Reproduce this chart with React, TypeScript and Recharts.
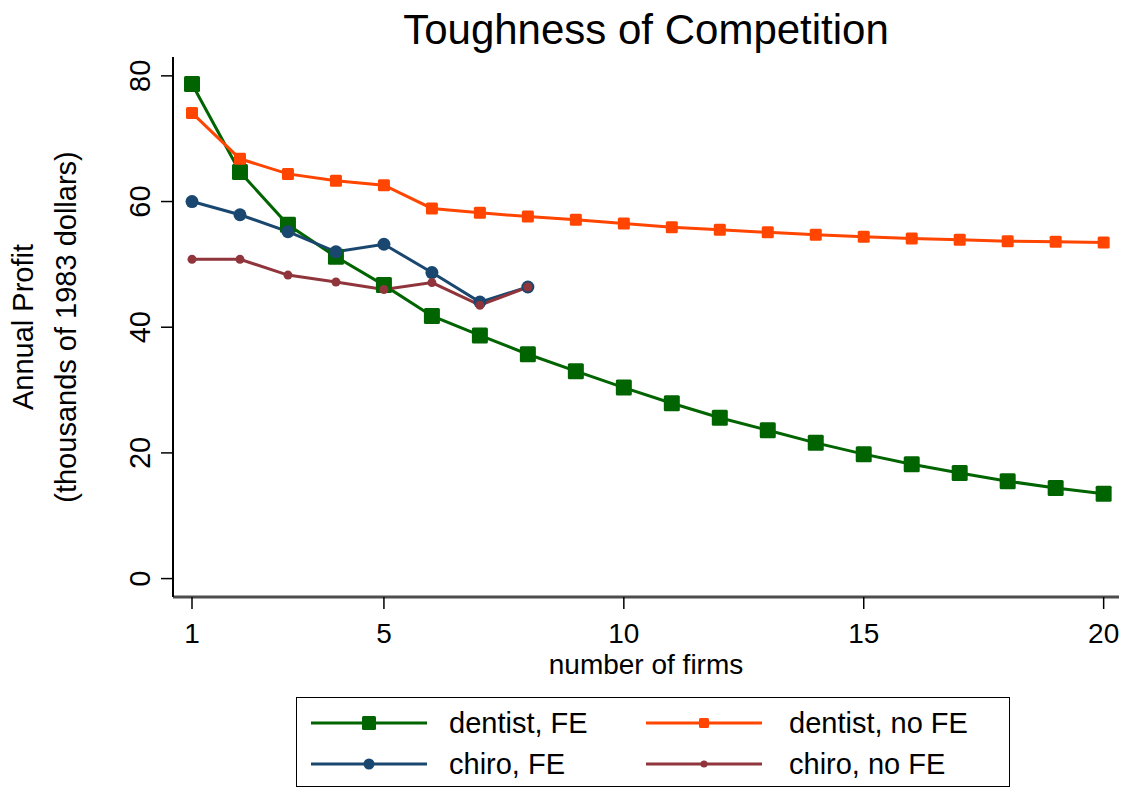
import React from 'react';
import { LineChart, Line, XAxis, YAxis, Legend } from 'recharts';

// number of firms in the market
const firms = [1, 2, 3, 4, 5, 6, 7, 8, 9, 10, 11, 12, 13, 14, 15, 16, 17, 18, 19, 20];

// annual profit, thousands of 1983 dollars
const dentistFE = [78.7, 64.7, 56.3, 51.2, 46.7, 41.8, 38.7, 35.7, 33.0, 30.4, 27.9, 25.6, 23.6, 21.6, 19.8, 18.2, 16.8, 15.5, 14.4, 13.5];
const dentistNoFE = [74.1, 66.8, 64.4, 63.3, 62.6, 58.9, 58.2, 57.6, 57.1, 56.5, 55.9, 55.5, 55.1, 54.7, 54.4, 54.1, 53.9, 53.7, 53.6, 53.5];
const chiroFE = [60.0, 57.9, 55.2, 52.0, 53.2, 48.7, 44.0, 46.4];
const chiroNoFE = [50.8, 50.8, 48.3, 47.2, 46.0, 47.1, 43.5, 46.4];

const xTicks = [1, 5, 10, 15, 20];
const yTicks = [0, 20, 40, 60, 80];

const data = firms.map((n, i) => ({
  n,
  dentistFE: dentistFE[i],
  dentistNoFE: dentistNoFE[i],
  chiroFE: chiroFE[i],
  chiroNoFE: chiroNoFE[i],
}));

const FONT = '"Liberation Sans", Arial, Helvetica, sans-serif';

type Series = {
  key: string;
  name: string;
  color: string;
  shape: 'square' | 'circle';
  size: number;
  legendSize: number;
};

const series: Series[] = [
  { key: 'dentistFE', name: 'dentist, FE', color: '#006400', shape: 'square', size: 16, legendSize: 14 },
  { key: 'dentistNoFE', name: 'dentist, no FE', color: '#FF4500', shape: 'square', size: 12, legendSize: 10 },
  { key: 'chiroFE', name: 'chiro, FE', color: '#1A476F', shape: 'circle', size: 13, legendSize: 11 },
  { key: 'chiroNoFE', name: 'chiro, no FE', color: '#90353B', shape: 'circle', size: 9, legendSize: 7 },
];

const makeDot = (s: Series) => (props: any) => {
  const { cx, cy, index } = props;
  if (cx == null || cy == null || isNaN(cx) || isNaN(cy)) return <g key={`e-${s.key}-${index}`} />;
  if (s.shape === 'square') {
    return (
      <rect
        key={`d-${s.key}-${index}`}
        x={cx - s.size / 2}
        y={cy - s.size / 2}
        width={s.size}
        height={s.size}
        rx={1.5}
        fill={s.color}
      />
    );
  }
  return <circle key={`d-${s.key}-${index}`} cx={cx} cy={cy} r={s.size / 2} fill={s.color} />;
};

const YTick = (props: any) => {
  const { x, y, payload } = props;
  const tx = x - 9;
  return (
    <text
      x={tx}
      y={y}
      transform={`rotate(-90, ${tx}, ${y})`}
      textAnchor="middle"
      fontSize={29}
      fontFamily={FONT}
      fill="#000"
    >
      {payload.value}
    </text>
  );
};

const XTick = (props: any) => {
  const { x, y, payload } = props;
  return (
    <text x={x} y={y + 32} textAnchor="middle" fontSize={28} fontFamily={FONT} fill="#000">
      {payload.value}
    </text>
  );
};

const YLabel = (props: any) => {
  const vb = props.viewBox || {};
  const cy = vb.y != null ? vb.y + vb.height / 2 : 327;
  return (
    <g fontFamily={FONT} fontSize={29} fill="#000">
      <text x={33} y={cy} transform={`rotate(-90, 33, ${cy})`} textAnchor="middle">
        Annual Profit
      </text>
      <text x={76} y={cy} transform={`rotate(-90, 76, ${cy})`} textAnchor="middle">
        (thousands of 1983 dollars)
      </text>
    </g>
  );
};

const XLabel = (props: any) => {
  const vb = props.viewBox || {};
  const cx = vb.x != null ? vb.x + vb.width / 2 : 646;
  return (
    <text x={cx} y={674} textAnchor="middle" fontFamily={FONT} fontSize={28} fill="#000">
      number of firms
    </text>
  );
};

const renderLegend = () => {
  const cols = [
    { line: 14, text: 152 },
    { line: 349, text: 492 },
  ];
  const rows = [25, 66];
  return (
    <div
      style={{
        width: 714,
        height: 90,
        border: '1.5px solid #000',
        boxSizing: 'border-box',
        position: 'relative',
        background: '#fff',
        fontFamily: FONT,
      }}
    >
      {series.map((s, i) => {
        const c = cols[i % 2];
        const r = rows[Math.floor(i / 2)];
        return (
          <React.Fragment key={s.key}>
            <svg
              width={116}
              height={30}
              style={{ position: 'absolute', left: c.line, top: r - 15 }}
            >
              <line x1={0} x2={116} y1={15} y2={15} stroke={s.color} strokeWidth={3} />
              {s.shape === 'square' ? (
                <rect
                  x={58 - s.legendSize / 2}
                  y={15 - s.legendSize / 2}
                  width={s.legendSize}
                  height={s.legendSize}
                  rx={1.5}
                  fill={s.color}
                />
              ) : (
                <circle cx={58} cy={15} r={s.legendSize / 2} fill={s.color} />
              )}
            </svg>
            <div
              style={{
                position: 'absolute',
                left: c.text,
                top: r - 17,
                height: 34,
                lineHeight: '34px',
                fontSize: 29,
                color: '#000',
                whiteSpace: 'nowrap',
              }}
            >
              {s.name}
            </div>
          </React.Fragment>
        );
      })}
    </div>
  );
};

export default function App() {
  return (
    <div style={{ position: 'absolute', left: 0, top: 0, width: 1126, height: 793, background: '#fff' }}>
      <div
        style={{
          position: 'absolute',
          left: 146,
          width: 1000,
          top: 9,
          textAlign: 'center',
          fontFamily: FONT,
          fontSize: 42,
          lineHeight: '42px',
          color: '#000',
        }}
      >
        Toughness of Competition
      </div>
      <LineChart
        width={1126}
        height={793}
        data={data}
        margin={{ top: 57, right: 7, left: 113, bottom: 136 }}
      >
        <XAxis
          dataKey="n"
          type="number"
          domain={[0.604, 20.32]}
          allowDataOverflow
          ticks={xTicks}
          interval={0}
          height={60}
          tickSize={12}
          tick={XTick}
          tickLine={{ stroke: '#000', strokeWidth: 1.5 }}
          axisLine={{ stroke: '#4d4d4d', strokeWidth: 3 }}
          label={{ content: XLabel }}
        />
        <XAxis
          xAxisId="top"
          dataKey="n"
          type="number"
          orientation="top"
          domain={[0.604, 20.32]}
          height={0}
          tick={false}
          tickLine={false}
          axisLine={{ stroke: '#333', strokeWidth: 2 }}
        />
        <YAxis
          type="number"
          domain={[-2.93, 83.0]}
          allowDataOverflow
          ticks={yTicks}
          interval={0}
          width={60}
          tickSize={12}
          tick={YTick}
          tickLine={{ stroke: '#000', strokeWidth: 1.5 }}
          axisLine={{ stroke: '#000', strokeWidth: 2 }}
          label={{ content: YLabel }}
        />
        <YAxis
          yAxisId="right"
          type="number"
          orientation="right"
          domain={[-2.93, 83.0]}
          width={0}
          tick={false}
          tickLine={false}
          axisLine={{ stroke: '#444', strokeWidth: 2 }}
        />
        {series.map((s) => (
          <Line
            key={s.key}
            dataKey={s.key}
            name={s.name}
            type="linear"
            stroke={s.color}
            strokeWidth={3}
            dot={makeDot(s)}
            activeDot={false}
            connectNulls={false}
            isAnimationActive={false}
          />
        ))}
        <Legend
          layout="horizontal"
          verticalAlign="middle"
          align="center"
          content={renderLegend}
          wrapperStyle={{ position: 'absolute', left: 296, top: 697, width: 714, height: 90 }}
        />
      </LineChart>
    </div>
  );
}
